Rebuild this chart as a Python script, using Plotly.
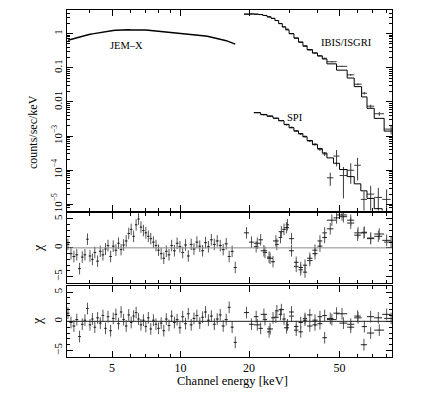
import numpy as np
import plotly.graph_objects as go

# ---------------- data ----------------
jemx_energy = [3.20, 3.30, 3.40, 3.50, 3.60, 3.70, 3.80, 3.90, 4.00, 4.10, 4.20, 4.32, 4.44, 4.56, 4.68,
               4.80, 4.93, 5.06, 5.20, 5.34, 5.48, 5.62, 5.77, 5.92, 6.07, 6.22, 6.38, 6.54, 6.70, 6.87,
               7.04, 7.22, 7.40, 7.60, 7.80, 8.00, 8.22, 8.44, 8.66, 8.90, 9.14, 9.40, 9.66, 9.94, 10.22,
               10.52, 10.82, 11.14, 11.46, 11.80, 12.15, 12.50, 12.88, 13.26, 13.66, 14.08, 14.50, 14.95,
               15.40, 15.88, 16.36, 16.86, 17.40]
jemx_flux = [0.64, 0.68, 0.72, 0.76, 0.80, 0.84, 0.88, 0.91, 0.95, 0.98, 1.01, 1.05, 1.09, 1.12, 1.15,
             1.18, 1.20, 1.23, 1.25, 1.27, 1.29, 1.30, 1.30, 1.29, 1.28, 1.28, 1.30, 1.33, 1.32, 1.30,
             1.28, 1.26, 1.24, 1.22, 1.20, 1.18, 1.15, 1.12, 1.11, 1.09, 1.08, 1.06, 1.05, 1.04, 1.02,
             1.01, 0.99, 0.97, 0.95, 0.93, 0.90, 0.88, 0.85, 0.82, 0.79, 0.76, 0.72, 0.69,
             0.65, 0.62, 0.58, 0.54, 0.49]
jemx_chi1 = [0.6, -1.0, -1.5, -1.2, -3.6, -1.6, -1.2, 1.5, -1.4, -2.0, -0.8, -2.3, -0.6, -1.2, -0.2,
             0.4, -1.5, 0.3, -0.4, 0.8, -0.3, 0.5, 1.2, 2.5, 3.2, 2.0, 4.0, 5.0, 3.6, 3.0,
             2.6, 2.0, 1.6, 1.0, 0.4, -0.4, -1.0, -1.8, -0.6, -1.2, 0.4, -0.5, 0.8, 0.2, -0.8,
             0.5, -1.4, 0.6, -0.2, 1.0, 0.3, -0.5, 0.9, 0.2, 1.4, 0.6, 1.2, 0.4,
             -0.3, 0.7, -1.5, -0.6, -3.4]
jemx_chi2 = [1.4, -0.2, -0.8, 0.3, -2.6, -0.5, 0.2, 2.2, -0.6, 0.4, -1.0, 0.6, -0.3, 1.0, -1.2,
             0.8, -1.6, 0.5, 1.2, -0.4, 1.6, 0.3, -0.8, 1.1, -0.2, 0.9, 1.5, 0.4, -0.6, 0.2,
             -0.9, 0.6, -1.3, 0.2, -0.5, -1.2, -0.3, -1.6, 0.4, -0.7, 0.9, -0.2, 0.3, -1.1, 0.8,
             -0.4, 1.3, -0.6, 0.5, 1.0, -0.3, 0.7, 1.6, 0.2, 0.9, -0.5, 0.4, 1.1,
             -0.8, 0.3, 2.4, -1.0, -3.6]

ibis_edges = [19, 20, 21, 22, 23, 24, 25, 26, 27, 28, 29, 30, 31.5, 33, 34.5, 36, 38, 40, 42, 44,
              48.5, 54, 58, 62.5, 66, 71, 78.5, 90]
ibis_model = [3.7, 3.75, 3.7, 3.6, 3.4, 3.1, 2.8, 2.4, 1.95, 1.55, 1.28, 1.0, 0.75, 0.57, 0.44, 0.34,
              0.27, 0.22, 0.18, 0.13, 0.085, 0.05, 0.028, 0.014, 0.0065, 0.0033, 0.0014]
ibis_flux = [3.72, 3.76, 3.7, 3.62, 3.38, 3.06, 2.75, 2.41, 1.98, 1.6, 1.35, 0.99, 0.72, 0.55, 0.42, 0.33,
             0.27, 0.225, 0.19, 0.15, 0.11, 0.062, 0.033, 0.018, 0.0075, 0.0045, 0.0016]
ibis_err = [0.02, 0.02, 0.02, 0.02, 0.02, 0.02, 0.02, 0.02, 0.015, 0.015, 0.015, 0.012, 0.01, 0.008,
            0.006, 0.005, 0.005, 0.004, 0.004, 0.004, 0.004, 0.003, 0.002, 0.0015, 0.0008, 0.0006, 0.0005]
ibis_chi1 = [2.6, 1.0, 0.2, 1.4, -0.8, -1.6, -2.4, 0.6, 1.8, 3.2, 4.0, -0.5, -3.2, -3.8, -4.2, -2.2,
             -0.4, 1.2, 2.6, 4.8, 5.7, 4.3, 2.6, 2.7, 1.7, 2.4, 1.0]
ibis_chi2 = [1.5, -0.5, 0.8, -1.2, 0.3, -1.8, 0.6, 1.8, 1.2, 0.4, -0.6, 0.9, -1.5, -0.2, 0.5, -0.8,
             0.2, -0.4, 1.0, 0.3, 1.3, -0.5, 0.6, -0.9, 0.8, -1.5, 0.5]

spi_edges = [21, 22.5, 24, 25.5, 27, 28.5, 30, 31.5, 33, 34.5, 36, 38, 40, 42, 44, 47, 50, 54, 58,
             62, 66, 71, 77, 84]
spi_model = [4.8e-3, 4.3e-3, 3.8e-3, 3.35e-3, 2.8e-3, 2.2e-3, 1.75e-3, 1.42e-3, 1.18e-3, 9.5e-4,
             7.4e-4, 5.6e-4, 4.3e-4, 3.2e-4, 2.3e-4, 1.6e-4, 1.05e-4, 6.5e-5, 4.0e-5, 2.5e-5,
             1.5e-5, 7.5e-6, 3.5e-6]
spi_flux = [4.9e-3, 4.2e-3, 3.9e-3, 3.3e-3, 2.85e-3, 2.15e-3, 1.8e-3, 1.4e-3, 1.15e-3, 9.8e-4,
            7.2e-4, 5.8e-4, 4.1e-4, 3.0e-4, 6.0e-5, 2.6e-4, 7.0e-5, 1.0e-4, 1.4e-4, 1.4e-5,
            2.0e-5, 1.6e-5, 1.4e-5]
spi_err = [1.5e-4, 1.4e-4, 1.3e-4, 1.2e-4, 1.1e-4, 1.0e-4, 9e-5, 8e-5, 7e-5, 6e-5,
           5e-5, 5e-5, 4.5e-5, 4e-5, 2.5e-5, 1.3e-4, 5.5e-5, 6e-5, 9e-5, 1.0e-5,
           1.5e-5, 1.45e-5, 1.35e-5]
spi_chi1 = [0.8, -0.5, -1.8, 1.2, 2.8, 3.5, 1.6, -2.5, -3.4, -3.0, -1.8, -1.0, 0.3, 1.8, 3.3,
            5.2, 5.4, 4.8, 2.2, 2.6, 1.6, 2.0, 1.3]
spi_chi2 = [-0.6, 1.2, -1.3, 0.7, 2.0, -1.1, 1.6, -0.9, -1.8, 0.2, 1.1, -0.6, 0.8, -2.8, 0.5,
            1.4, -0.3, -1.0, 0.9, -4.0, -2.0, 0.6, 1.2]

x_ticks = [5, 10, 20, 50]
y_ticks = [1e-5, 1e-4, 1e-3, 1e-2, 0.1, 1]
y_ticktext = ["10<sup>\u22125</sup>", "10<sup>\u22124</sup>", "10<sup>\u22123</sup>", "0.01", "0.1", "1"]
chi_ticks = [-5, 0, 5]
chi_ticktext = ["\u22125", "0", "5"]

# ---------------- helpers ----------------
def jem_halfwidths(c):
    c = np.asarray(c, float)
    mid = np.sqrt(c[:-1] * c[1:])
    lo = np.concatenate([[c[0] ** 2 / mid[0]], mid])
    hi = np.concatenate([mid, [c[-1] ** 2 / mid[-1]]])
    return c - lo, hi - c

def bins(edges):
    e = np.asarray(edges, float)
    cen = 0.5 * (e[:-1] + e[1:])
    return cen, cen - e[:-1], e[1:] - cen

jem_lo, jem_hi = jem_halfwidths(jemx_energy)
ib_c, ib_lo, ib_hi = bins(ibis_edges)
sp_c, sp_lo, sp_hi = bins(spi_edges)

DCOL = "#3a3a3a"
FONT = "Liberation Serif"

fig = go.Figure()

def data_trace(x, y, lo, hi, ey, xa, ya, col=DCOL):
    return go.Scatter(x=x, y=y, mode="markers", marker=dict(size=1, color=col),
                      error_x=dict(type="data", array=hi, arrayminus=lo, color=col, thickness=1, width=0),
                      error_y=ey, xaxis=xa, yaxis=ya, showlegend=False, hoverinfo="skip")

# top panel
fig.add_trace(go.Scatter(x=jemx_energy, y=jemx_flux, mode="lines", line=dict(color="black", width=1.5),
                         xaxis="x", yaxis="y", showlegend=False))
fig.add_trace(data_trace(ib_c, ibis_flux, ib_lo, ib_hi,
                         dict(type="data", array=ibis_err, color=DCOL, thickness=1, width=0), "x", "y"))
fig.add_trace(go.Scatter(x=ibis_edges, y=ibis_model + [ibis_model[-1]], mode="lines", line_shape="hv",
                         line=dict(color="black", width=1), xaxis="x", yaxis="y", showlegend=False))
fig.add_trace(data_trace(sp_c, spi_flux, sp_lo, sp_hi,
                         dict(type="data", array=spi_err, color=DCOL, thickness=1, width=0), "x", "y"))
fig.add_trace(go.Scatter(x=spi_edges, y=spi_model + [spi_model[-1]], mode="lines", line_shape="hv",
                         line=dict(color="black", width=1), xaxis="x", yaxis="y", showlegend=False))

# residual panels
chi_err = dict(type="constant", value=1, color="#555555", thickness=1, width=0)
for xa, ya, j, ib, sp in (("x2", "y2", jemx_chi1, ibis_chi1, spi_chi1),
                          ("x3", "y3", jemx_chi2, ibis_chi2, spi_chi2)):
    fig.add_trace(data_trace(jemx_energy, j, jem_lo, jem_hi, chi_err, xa, ya, "#222"))
    fig.add_trace(data_trace(ib_c, ib, ib_lo, ib_hi, chi_err, xa, ya, "#222"))
    fig.add_trace(data_trace(sp_c, sp, sp_lo, sp_hi, chi_err, xa, ya, "#222"))

xr = [np.log10(3.17), np.log10(85)]
x_minor = [4, 6, 7, 8, 9, 30, 40, 60, 70, 80]
y_minor = [m * 10.0 ** k for k in range(-6, 1) for m in range(2, 10)]

def xaxis(anchor, labels):
    return dict(type="log", range=xr, anchor=anchor, domain=[0, 1], tickvals=x_ticks,
                ticktext=[str(v) for v in x_ticks], showticklabels=labels,
                ticks="inside", ticklen=6, tickwidth=1, tickcolor="black",
                minor=dict(tickvals=x_minor, ticks="inside", ticklen=3, tickcolor="black", showgrid=False),
                showline=True, linecolor="black", linewidth=1, mirror="allticks",
                showgrid=False, zeroline=False, tickfont=dict(family=FONT, size=12, color="black"))

def chiaxis(anchor, dom):
    return dict(range=[-6.1, 6.1], anchor=anchor, domain=dom, tickvals=chi_ticks, ticktext=chi_ticktext,
                tickangle=-90, ticks="inside", ticklen=6, tickcolor="black",
                minor=dict(dtick=1, ticks="inside", ticklen=3, tickcolor="black", showgrid=False),
                showline=True, linecolor="black", linewidth=1, mirror="allticks",
                showgrid=False, zeroline=False, tickfont=dict(family=FONT, size=11, color="black"))

# page body has an 8px default margin, so the figure margins are offset by 8px
fig.update_layout(
    width=428, height=394,
    margin=dict(l=59, r=44, t=2, b=45),
    paper_bgcolor="white", plot_bgcolor="white",
    font=dict(family=FONT, color="black"),
    xaxis=xaxis("y", False),
    xaxis2=xaxis("y2", False),
    xaxis3=xaxis("y3", True),
    yaxis=dict(type="log", range=[-5.18, 0.69], anchor="x", domain=[0.422, 1],
               tickvals=y_ticks, ticktext=y_ticktext, tickangle=-90,
               ticks="inside", ticklen=6, tickcolor="black",
               minor=dict(tickvals=y_minor, ticks="inside", ticklen=3, tickcolor="black", showgrid=False),
               showline=True, linecolor="black", linewidth=1, mirror="allticks",
               showgrid=False, zeroline=False, tickfont=dict(family=FONT, size=11, color="black")),
    yaxis2=chiaxis("x2", [0.213, 0.416]),
    yaxis3=chiaxis("x3", [0, 0.2055]),
    shapes=[
        dict(type="line", xref="x2 domain", yref="y2", x0=0, x1=1, y0=0, y1=0,
             line=dict(color="#888888", width=1)),
        dict(type="line", xref="x3 domain", yref="y3", x0=0, x1=1, y0=0, y1=0,
             line=dict(color="#222222", width=1)),
    ],
    annotations=[
        dict(text="counts/sec/keV", xref="paper", yref="paper", x=-0.105, y=0.648, showarrow=False,
             textangle=-90, xanchor="center", yanchor="middle", font=dict(family=FONT, size=12)),
        dict(text="\u03c7", xref="paper", yref="paper", x=-0.089, y=0.314, showarrow=False,
             textangle=-90, xanchor="center", yanchor="middle", font=dict(family=FONT, size=14)),
        dict(text="\u03c7", xref="paper", yref="paper", x=-0.089, y=0.104, showarrow=False,
             textangle=-90, xanchor="center", yanchor="middle", font=dict(family=FONT, size=14)),
        dict(text="Channel energy [keV]", xref="paper", yref="paper", x=0.508, y=-0.069, showarrow=False,
             xanchor="center", yanchor="middle", font=dict(family=FONT, size=12.5)),
        dict(text="JEM\u2013X", xref="x", yref="y", x=np.log10(5.8), y=-0.336, showarrow=False,
             font=dict(family=FONT, size=10.5)),
        dict(text="IBIS/ISGRI", xref="x", yref="y", x=np.log10(53.5), y=-0.25, showarrow=False,
             font=dict(family=FONT, size=10.5)),
        dict(text="SPI", xref="x", yref="y", x=np.log10(31.7), y=-2.47, showarrow=False,
             font=dict(family=FONT, size=10.5)),
    ],
)

fig.write_html("out.html")
